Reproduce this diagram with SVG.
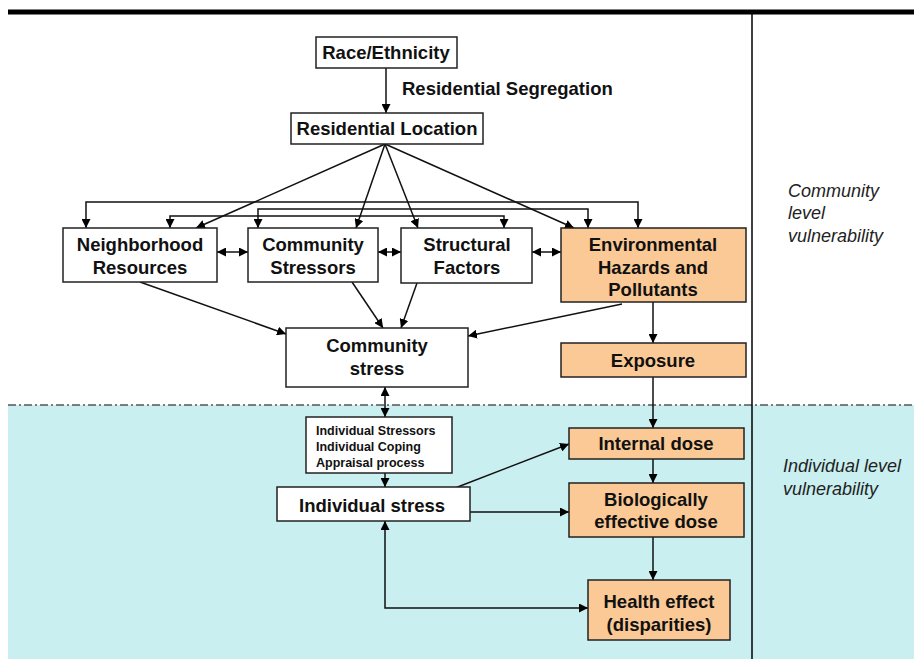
<svg xmlns="http://www.w3.org/2000/svg" width="914" height="659" viewBox="0 0 914 659">
<defs>
<marker id="ah" viewBox="0 0 10 10" refX="10" refY="5" markerWidth="9" markerHeight="9" markerUnits="userSpaceOnUse" orient="auto-start-reverse">
<path d="M0,0 L10,5 L0,10 z" fill="#000"/>
</marker>
<style>
.box{fill:#fff;stroke:#222;stroke-width:1.5}
.org{fill:#fbc995;stroke:#222;stroke-width:1.5}
.t{font-family:"Liberation Sans",Arial,sans-serif;font-weight:bold;font-size:18.5px;fill:#111;text-anchor:middle}
.s{font-family:"Liberation Sans",Arial,sans-serif;font-weight:bold;font-size:12.5px;fill:#111}
.i{font-family:"Liberation Sans",Arial,sans-serif;font-style:italic;font-size:18px;fill:#222}
.c{fill:none;stroke:#111;stroke-width:1.5}
.a{marker-end:url(#ah)}
.b{marker-start:url(#ah);marker-end:url(#ah)}
</style>
</defs>
<rect width="914" height="659" fill="#fff"/>
<rect x="8" y="405" width="906" height="254" fill="#c9eff0"/>
<line x1="8" y1="405" x2="914" y2="405" stroke="#555" stroke-width="1.5" stroke-dasharray="8,3,2,3"/>
<line x1="8" y1="12" x2="914" y2="12" stroke="#000" stroke-width="5"/>
<line x1="752" y1="14" x2="752" y2="659" stroke="#000" stroke-width="1.5"/>

<g id="connectors">
<line class="c a" x1="386" y1="68" x2="386" y2="113"/>
<line class="c a" x1="385" y1="144" x2="196" y2="228"/>
<line class="c a" x1="385" y1="144" x2="356" y2="228"/>
<line class="c a" x1="385" y1="144" x2="418" y2="228"/>
<line class="c a" x1="385" y1="144" x2="574" y2="228"/>
<path class="c b" d="M86,228 V202 H638 V228"/>
<path class="c b" d="M258,228 V209 H588 V228"/>
<path class="c b" d="M170,228 V216 H504 V228"/>
<line class="c b" x1="217" y1="252" x2="248" y2="252"/>
<line class="c b" x1="378" y1="252" x2="401" y2="252"/>
<line class="c b" x1="532" y1="252" x2="561" y2="252"/>
<line class="c a" x1="140" y1="282" x2="286" y2="334"/>
<line class="c a" x1="352" y1="282" x2="383" y2="328"/>
<line class="c a" x1="417" y1="283" x2="401" y2="328"/>
<line class="c a" x1="622" y1="304" x2="468" y2="336"/>
<line class="c a" x1="653" y1="302" x2="653" y2="343"/>
<line class="c a" x1="653" y1="377" x2="653" y2="428"/>
<line class="c b" x1="385" y1="387" x2="385" y2="417"/>
<line class="c a" x1="385" y1="473" x2="385" y2="487"/>
<line class="c a" x1="455" y1="488" x2="569" y2="444"/>
<line class="c a" x1="470" y1="512" x2="569" y2="512"/>
<line class="c a" x1="653" y1="459" x2="653" y2="483"/>
<line class="c a" x1="653" y1="537" x2="653" y2="580"/>
<path class="c b" d="M385,521 V608 H588"/>
</g>

<g id="race"><rect class="box" x="316" y="37" width="141" height="31"/><text class="t" x="386" y="59">Race/Ethnicity</text></g>
<g id="segregation-label"><text class="t" x="402" y="95" style="text-anchor:start">Residential Segregation</text></g>
<g id="residential-location"><rect class="box" x="291" y="113" width="192" height="31"/><text class="t" x="387" y="135">Residential Location</text></g>
<g id="neighborhood"><rect class="box" x="63" y="228" width="154" height="54"/><text class="t" x="140" y="251">Neighborhood</text><text class="t" x="140" y="274">Resources</text></g>
<g id="community-stressors"><rect class="box" x="248" y="228" width="130" height="54"/><text class="t" x="313" y="251">Community</text><text class="t" x="313" y="274">Stressors</text></g>
<g id="structural"><rect class="box" x="401" y="228" width="131" height="55"/><text class="t" x="467" y="251">Structural</text><text class="t" x="467" y="274">Factors</text></g>
<g id="environmental"><rect class="org" x="561" y="228" width="185" height="74"/><text class="t" x="653" y="251">Environmental</text><text class="t" x="653" y="274">Hazards and</text><text class="t" x="653" y="296">Pollutants</text></g>
<g id="community-stress"><rect class="box" x="286" y="328" width="182" height="59"/><text class="t" x="377" y="352">Community</text><text class="t" x="377" y="375">stress</text></g>
<g id="exposure"><rect class="org" x="561" y="343" width="185" height="34"/><text class="t" x="653" y="367">Exposure</text></g>
<g id="individual-factors"><rect class="box" x="306" y="417" width="146" height="56"/><text class="s" x="316" y="435">Individual Stressors</text><text class="s" x="316" y="451">Individual Coping</text><text class="s" x="316" y="467">Appraisal process</text></g>
<g id="individual-stress"><rect class="box" x="277" y="487" width="193" height="34"/><text class="t" x="372" y="512">Individual stress</text></g>
<g id="internal-dose"><rect class="org" x="569" y="428" width="175" height="31"/><text class="t" x="656" y="450">Internal dose</text></g>
<g id="bio-dose"><rect class="org" x="569" y="483" width="175" height="54"/><text class="t" x="656" y="506">Biologically</text><text class="t" x="656" y="528">effective dose</text></g>
<g id="health"><rect class="org" x="588" y="580" width="142" height="60"/><text class="t" x="659" y="608">Health effect</text><text class="t" x="659" y="631">(disparities)</text></g>
<g id="community-level"><text class="i" x="788" y="197">Community</text><text class="i" x="788" y="219">level</text><text class="i" x="788" y="242">vulnerability</text></g>
<g id="individual-level"><text class="i" x="783" y="472">Individual level</text><text class="i" x="783" y="495">vulnerability</text></g>
</svg>
